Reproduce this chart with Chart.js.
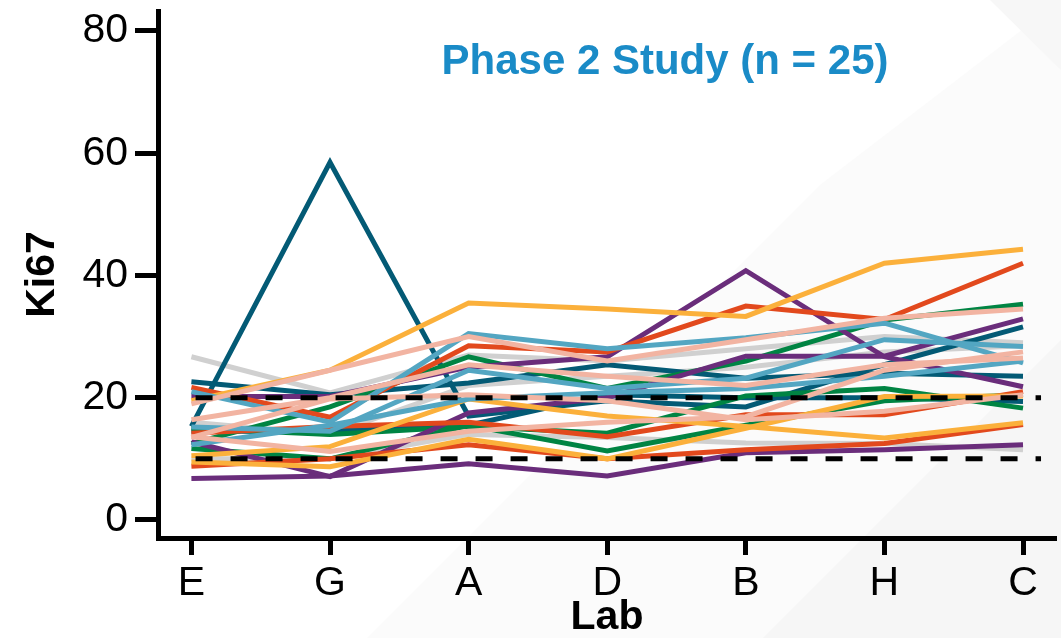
<!DOCTYPE html>
<html>
<head>
<meta charset="utf-8">
<script src="https://cdn.jsdelivr.net/npm/chart.js@4.4.1/dist/chart.umd.min.js"></script>
<style>
  html, body { margin: 0; padding: 0; background: #ffffff; }
  #wrap { width: 1061px; height: 638px; position: relative; }
</style>
</head>
<body>
<div id="wrap"><canvas id="c" width="1061" height="638"></canvas></div>
<script>
// ---- data ----
const labs = ['E', 'G', 'A', 'D', 'B', 'H', 'C'];
const yTicks = [0, 20, 40, 60, 80];
const refLevels = [20, 10];
const refSpan = [0.03, 6.13];
const titleText = 'Phase 2 Study (n = 25)';
const xTitle = 'Lab';
const yTitle = 'Ki67';

// pink
const K1 = [19, 24.5, 30, 26, 29.5, 33, 34.5];
const K2 = [16.4, 20, 25.4, 23.5, 22, 25.4, 26.5];
const K3 = [13.5, 19.8, 20.5, 19.5, 16.4, 17.8, 20.5];
const K4 = [13.6, 11.2, 14.5, 16, 16.9, 24.5, 27.5];
// light blue
const L1 = [21, 16, 30.5, 28, 29.8, 32.2, 25.7];
const L2 = [15.2, 14.5, 24.5, 21.5, 23.2, 29.5, 28.4];
const L3 = [12.3, 15.5, 19.8, 20.8, 21.5, 23.5, 26];
// yellow
const Y1 = [19.5, 24.5, 35.5, 34.5, 33.3, 42, 44.3];
const Y2 = [10.5, 12, 19.8, 17, 15.3, 13.4, 15.9];
const Y3 = [9.5, 8.7, 13.2, 10, 15, 20.2, 20.3];
// orange-red
const O1 = [21.7, 16.8, 28.5, 27.5, 35, 32.8, 42];
const O2 = [8.8, 10, 12.3, 10, 11.5, 12.5, 15.6];
const O3 = [14.2, 15.3, 16, 13.6, 17.2, 17.2, 21];
// green
const G1 = [12.5, 18.5, 26.7, 21.5, 26, 32.7, 35.3];
const G2 = [15, 14, 15.3, 14.2, 20.3, 21.5, 18.3];
const G3 = [11.7, 10, 15.5, 11.3, 15.5, 19.5, 20.5];
// purple
const P1 = [20.2, 20.2, 25, 26.7, 40.8, 26.7, 21.8];
const P2 = [12.8, 7.1, 17.5, 20, 26.8, 26.8, 32.9];
const P3 = [6.8, 7.2, 9.2, 7.2, 11, 11.5, 12.3];
// dark teal
const T1 = [15.3, 58.5, 17, 19.5, 18.5, 25.4, 31.6];
const T2 = [22.6, 20.5, 22.4, 25.4, 23.2, 24, 23.5];
const T3 = [14.5, 14.5, 15.5, 20.5, 20, 20, 19.4];
// gray
const Gr1 = [26.7, 20.8, 27, 26, 28, 30, 29];
const Gr2 = [10, 10, 14, 13.5, 12.6, 12.5, 11.5];
const Gr3 = [16, 14, 22, 23.5, 25, 27.5, 28.5];

const C = {
  pink: '#f2b4a2', lblue: '#53a6c2', yellow: '#fbb03b', orange: '#e2491d',
  green: '#008443', purple: '#6a2d7b', teal: '#035a75', gray: '#d0d0d0'
};

// first listed = drawn on top
const seriesList = [
  [K1, C.pink], [K2, C.pink], [K3, C.pink], [K4, C.pink],
  [L1, C.lblue], [L2, C.lblue], [L3, C.lblue],
  [Y1, C.yellow], [Y2, C.yellow], [Y3, C.yellow],
  [O1, C.orange], [O2, C.orange], [O3, C.orange],
  [P1, C.purple], [P2, C.purple], [P3, C.purple],
  [G1, C.green], [G2, C.green], [G3, C.green],
  [T2, C.teal], [T3, C.teal], [T1, C.teal],
  [Gr1, C.gray], [Gr2, C.gray], [Gr3, C.gray]
];

const FONT = "'Liberation Sans', Arial, sans-serif";

const datasets = [];
refLevels.forEach(v => {
  datasets.push({
    data: refSpan.map(x => ({ x: x, y: v })),
    borderColor: '#000000', borderWidth: 5, borderDash: [17, 18],
    pointRadius: 0, tension: 0, borderCapStyle: 'butt'
  });
});
seriesList.forEach(([vals, col]) => {
  datasets.push({
    data: vals.map((v, i) => ({ x: i, y: v })),
    borderColor: col, borderWidth: 5, pointRadius: 0, tension: 0,
    borderJoinStyle: 'miter', borderCapStyle: 'butt'
  });
});

const bgPlugin = {
  id: 'bg',
  beforeDraw(chart) {
    const ctx = chart.ctx;
    ctx.save();
    ctx.fillStyle = '#ffffff';
    ctx.fillRect(0, 0, chart.width, chart.height);
    ctx.fillStyle = '#fbfbfb';
    ctx.beginPath();
    ctx.moveTo(367, 638); ctx.lineTo(820, 185); ctx.lineTo(1061, 0); ctx.lineTo(1061, 638);
    ctx.closePath(); ctx.fill();
    ctx.fillStyle = '#f6f6f6';
    ctx.beginPath();
    ctx.moveTo(763, 638); ctx.lineTo(1061, 340); ctx.lineTo(1061, 638);
    ctx.closePath(); ctx.fill();
    ctx.fillStyle = '#f7f7f7';
    ctx.beginPath();
    ctx.moveTo(990, 0); ctx.lineTo(1061, 0); ctx.lineTo(1061, 70);
    ctx.closePath(); ctx.fill();
    ctx.restore();
  },
  afterDraw(chart) {
    const ctx = chart.ctx;
    ctx.save();
    ctx.fillStyle = '#1a8bc7';
    ctx.font = "bold 42px " + FONT;
    ctx.textAlign = 'center';
    ctx.textBaseline = 'middle';
    ctx.fillText(titleText, 665, 62);
    ctx.restore();
  }
};

new Chart(document.getElementById('c'), {
  type: 'line',
  data: { datasets: datasets },
  plugins: [bgPlugin],
  options: {
    responsive: false,
    animation: false,
    devicePixelRatio: 1,
    layout: { padding: { top: 11, right: 5, left: 0, bottom: 0 } },
    plugins: { legend: { display: false }, tooltip: { enabled: false }, title: { display: false } },
    scales: {
      x: {
        type: 'linear',
        min: -0.241, max: 6.238,
        afterBuildTicks: s => { s.ticks = labs.map((_, i) => ({ value: i })); },
        afterFit: s => { s.height = 100; s.paddingLeft = 0; s.paddingRight = 0; },
        ticks: {
          callback: v => labs[v] ?? '',
          color: '#000', font: { family: FONT, size: 41 }, padding: 4,
          maxRotation: 0, autoSkip: false
        },
        grid: { display: true, drawOnChartArea: false, drawTicks: true, tickLength: 17, tickWidth: 5, tickColor: '#000', color: '#000' },
        border: { display: true, color: '#000', width: 5 },
        title: { display: true, text: xTitle, color: '#000', font: { family: FONT, size: 41, weight: 'bold', lineHeight: 1.0 }, padding: { top: 0, bottom: 0 } }
      },
      y: {
        type: 'linear',
        min: -2.95, max: 83.27,
        afterBuildTicks: s => { s.ticks = yTicks.map(v => ({ value: v })); },
        afterFit: s => { s.width = 158; s.paddingTop = 0; s.paddingBottom = 0; },
        ticks: { color: '#000', font: { family: FONT, size: 41 }, padding: 7 },
        grid: { display: true, drawOnChartArea: false, drawTicks: true, tickLength: 23, tickWidth: 5, tickColor: '#000', color: '#000' },
        border: { display: true, color: '#000', width: 5 },
        title: { display: true, text: yTitle, color: '#000', font: { family: FONT, size: 41, weight: 'bold', lineHeight: 1.0 }, padding: { top: 22, bottom: 0 } }
      }
    }
  }
});
</script>
</body>
</html>
